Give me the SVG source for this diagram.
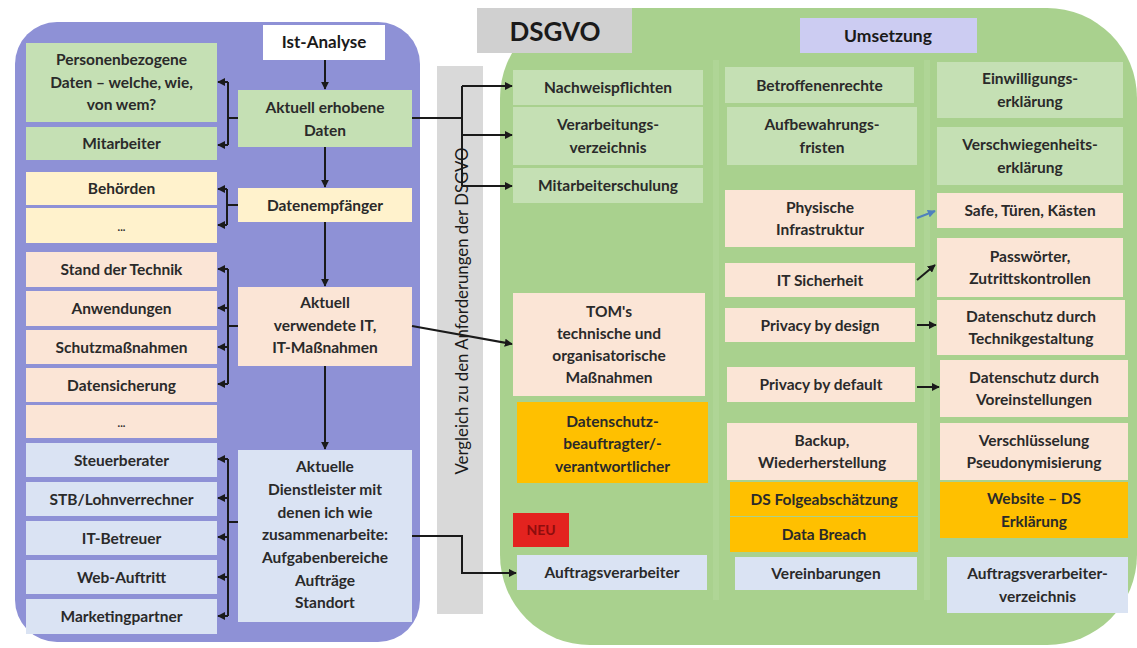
<svg xmlns="http://www.w3.org/2000/svg" width="1137" height="648" viewBox="0 0 1137 648">
<defs>
<marker id="ah" viewBox="0 0 10 10" refX="9" refY="5" markerWidth="8" markerHeight="8" markerUnits="userSpaceOnUse" orient="auto"><path d="M0,0 L10,5 L0,10 z" fill="#1a1a1a"/></marker>
<marker id="ahb" viewBox="0 0 10 10" refX="9" refY="5" markerWidth="8" markerHeight="8" markerUnits="userSpaceOnUse" orient="auto"><path d="M0,0 L10,5 L0,10 z" fill="#4f81bd"/></marker>
</defs>
<style>
text{font-family:Lato,"Liberation Sans",sans-serif;font-weight:700;font-size:15.5px;fill:#2a2a2a;text-anchor:middle}
.g{fill:#c5e0b4}.y{fill:#fff2cc}.p{fill:#fbe5d6}.b{fill:#dae3f3}.o{fill:#ffc000}
.ln{fill:none;stroke:#1a1a1a;stroke-width:2}
.ar{fill:none;stroke:#1a1a1a;stroke-width:2;marker-end:url(#ah)}
</style>
<rect width="1137" height="648" fill="#ffffff"/>
<!-- panels -->
<rect id="panel-ist" x="15" y="22" width="405" height="620" rx="42" fill="#8e91d6"/>
<rect id="panel-dsgvo" x="500" y="8" width="637" height="637" rx="90" fill="#a9d18e"/>
<rect x="713" y="60" width="6" height="540" fill="#b6d9a0" opacity="0.45"/>
<rect x="924" y="60" width="6" height="540" fill="#b6d9a0" opacity="0.45"/>
<g id="band"><rect x="437" y="66" width="46" height="548" fill="#d9d9d9"/>
<text transform="translate(468,311) rotate(-90)" style="font-weight:400;font-size:16.8px;fill:#1a1a1a">Vergleich zu den Anforderungen der DSGVO</text></g>
<g id="title-dsgvo"><rect x="477" y="8" width="155" height="45" fill="#d0d0d0"/><text x="555" y="41" style="font-size:26px;fill:#1a1a1a">DSGVO</text></g>
<g id="title-umsetzung"><rect x="800" y="18" width="177" height="35" fill="#ccccf2"/><text x="888" y="42" style="font-size:17.5px;fill:#1a1a1a">Umsetzung</text></g>
<g id="title-ist"><rect x="263" y="25" width="122" height="35" fill="#ffffff"/><text x="324" y="48" style="font-size:17px;fill:#1a1a1a">Ist-Analyse</text></g>

<!-- left column -->
<g id="personenbezogene"><rect class="g" x="26" y="43" width="191" height="79"/><text x="121.5" y="65">Personenbezogene</text><text x="121.5" y="87.5">Daten – welche, wie,</text><text x="121.5" y="110">von wem?</text></g>
<g id="mitarbeiter"><rect class="g" x="26" y="127" width="191" height="33"/><text x="121.5" y="149">Mitarbeiter</text></g>
<g id="behoerden"><rect class="y" x="26" y="172" width="191" height="33"/><text x="121.5" y="194">Behörden</text></g>
<g id="dots1"><rect class="y" x="26" y="208" width="191" height="35"/><text x="121.5" y="231" style="font-size:11px">...</text></g>
<g id="stand"><rect class="p" x="26" y="252" width="191" height="35"/><text x="121.5" y="275">Stand der Technik</text></g>
<g id="anwendungen"><rect class="p" x="26" y="291" width="191" height="35"/><text x="121.5" y="314">Anwendungen</text></g>
<g id="schutz"><rect class="p" x="26" y="330" width="191" height="34"/><text x="121.5" y="352.5">Schutzmaßnahmen</text></g>
<g id="datensicherung"><rect class="p" x="26" y="368" width="191" height="34"/><text x="121.5" y="390.5">Datensicherung</text></g>
<g id="dots2"><rect class="p" x="26" y="405" width="191" height="33"/><text x="121.5" y="427" style="font-size:11px">...</text></g>
<g id="steuerberater"><rect class="b" x="26" y="443" width="191" height="34"/><text x="121.5" y="465.5">Steuerberater</text></g>
<g id="stb"><rect class="b" x="26" y="482" width="191" height="34"/><text x="121.5" y="504.5">STB/Lohnverrechner</text></g>
<g id="itbetreuer"><rect class="b" x="26" y="521" width="191" height="34"/><text x="121.5" y="543.5">IT-Betreuer</text></g>
<g id="webauftritt"><rect class="b" x="26" y="560" width="191" height="34"/><text x="121.5" y="582.5">Web-Auftritt</text></g>
<g id="marketing"><rect class="b" x="26" y="599" width="191" height="35"/><text x="121.5" y="622">Marketingpartner</text></g>

<!-- left panel main column -->
<g id="erhobene"><rect class="g" x="238" y="90" width="174" height="57"/><text x="325" y="113">Aktuell erhobene</text><text x="325" y="135.5">Daten</text></g>
<g id="empfaenger"><rect class="y" x="238" y="188" width="174" height="34"/><text x="325" y="210.5">Datenempfänger</text></g>
<g id="verwendete-it"><rect class="p" x="238" y="287" width="174" height="79"/><text x="325" y="308">Aktuell</text><text x="325" y="330.5">verwendete IT,</text><text x="325" y="353">IT-Maßnahmen</text></g>
<g id="dienstleister"><rect class="b" x="238" y="450" width="174" height="172"/><text x="325" y="472">Aktuelle</text><text x="325" y="495">Dienstleister mit</text><text x="325" y="518">denen ich wie</text><text x="325" y="540">zusammenarbeite:</text><text x="325" y="563">Aufgabenbereiche</text><text x="325" y="586">Aufträge</text><text x="325" y="608">Standort</text></g>

<!-- right panel column 1 -->
<g id="nachweis"><rect class="g" x="513" y="70" width="190" height="35"/><text x="608" y="93">Nachweispflichten</text></g>
<g id="verarbeitungs"><rect class="g" x="513" y="107" width="190" height="58"/><text x="608" y="130">Verarbeitungs-</text><text x="608" y="152.5">verzeichnis</text></g>
<g id="schulung"><rect class="g" x="513" y="168" width="190" height="35"/><text x="608" y="191">Mitarbeiterschulung</text></g>
<g id="toms"><rect class="p" x="513" y="293" width="192" height="103"/><text x="609" y="317">TOM's</text><text x="609" y="339">technische und</text><text x="609" y="361">organisatorische</text><text x="609" y="383">Maßnahmen</text></g>
<g id="dsb"><rect class="o" x="517" y="402" width="191" height="81"/><text x="612.5" y="426.5">Datenschutz-</text><text x="612.5" y="449">beauftragter/-</text><text x="612.5" y="471.5">verantwortlicher</text></g>
<g id="neu"><rect x="513" y="513" width="56" height="34" fill="#e3231f"/><text x="541" y="535" style="font-size:14px;fill:#8e0d0d">NEU</text></g>
<g id="auftragsverarbeiter"><rect class="b" x="517" y="555" width="190" height="35"/><text x="612" y="578">Auftragsverarbeiter</text></g>

<!-- column 2 -->
<g id="betroffenen"><rect class="g" x="725" y="67" width="189" height="36"/><text x="819.5" y="90.5">Betroffenenrechte</text></g>
<g id="aufbewahrung"><rect class="g" x="727" y="107" width="190" height="58"/><text x="822" y="130">Aufbewahrungs-</text><text x="822" y="152.5">fristen</text></g>
<g id="physische"><rect class="p" x="725" y="190" width="190" height="57"/><text x="820" y="212.5">Physische</text><text x="820" y="235">Infrastruktur</text></g>
<g id="itsicherheit"><rect class="p" x="725" y="263" width="190" height="34"/><text x="820" y="285.5">IT Sicherheit</text></g>
<g id="pbdesign"><rect class="p" x="725" y="308" width="190" height="34"/><text x="820" y="330.5">Privacy by design</text></g>
<g id="pbdefault"><rect class="p" x="727" y="367" width="188" height="35"/><text x="821" y="390">Privacy by default</text></g>
<g id="backup"><rect class="p" x="727" y="423" width="190" height="57"/><text x="822" y="445.5">Backup,</text><text x="822" y="468">Wiederherstellung</text></g>
<g id="folge"><rect class="o" x="730" y="482" width="188" height="34"/><text x="824" y="504.5">DS Folgeabschätzung</text></g>
<g id="breach"><rect class="o" x="730" y="517" width="188" height="35"/><text x="824" y="540">Data Breach</text></g>
<g id="vereinbarungen"><rect class="b" x="735" y="557" width="182" height="33"/><text x="826" y="579">Vereinbarungen</text></g>

<!-- column 3 -->
<g id="einwilligung"><rect class="g" x="937" y="62" width="186" height="56"/><text x="1030" y="84">Einwilligungs-</text><text x="1030" y="106.5">erklärung</text></g>
<g id="verschwiegenheit"><rect class="g" x="937" y="127" width="186" height="58"/><text x="1030" y="150">Verschwiegenheits-</text><text x="1030" y="172.5">erklärung</text></g>
<g id="safe"><rect class="p" x="937" y="193" width="186" height="35"/><text x="1030" y="216">Safe, Türen, Kästen</text></g>
<g id="passwoerter"><rect class="p" x="937" y="238" width="186" height="59"/><text x="1030" y="261.5">Passwörter,</text><text x="1030" y="284">Zutrittskontrollen</text></g>
<g id="technikgestaltung"><rect class="p" x="937" y="300" width="188" height="55"/><text x="1031" y="321.5">Datenschutz durch</text><text x="1031" y="344">Technikgestaltung</text></g>
<g id="voreinstellungen"><rect class="p" x="940" y="360" width="188" height="57"/><text x="1034" y="382.5">Datenschutz durch</text><text x="1034" y="405">Voreinstellungen</text></g>
<g id="verschluesselung"><rect class="p" x="940" y="423" width="188" height="57"/><text x="1034" y="445.5">Verschlüsselung</text><text x="1034" y="468">Pseudonymisierung</text></g>
<g id="website"><rect class="o" x="940" y="482" width="188" height="56"/><text x="1034" y="504">Website – DS</text><text x="1034" y="526.5">Erklärung</text></g>
<g id="av-verzeichnis"><rect class="b" x="947" y="557" width="181" height="56"/><text x="1037.5" y="579">Auftragsverarbeiter-</text><text x="1037.5" y="601.5">verzeichnis</text></g>

<!-- connectors -->
<g id="connectors">
<path class="ar" d="M325,60 V89"/>
<path class="ar" d="M325,147 V187"/>
<path class="ar" d="M325,222 V286"/>
<path class="ar" d="M325,366 V449"/>
<path class="ln" d="M238,118 H228 M228,82 V145"/>
<path class="ar" d="M228,82 H218"/><path class="ar" d="M228,145 H218"/>
<path class="ln" d="M238,205 H227 M227,189 V225"/>
<path class="ar" d="M227,189 H218"/><path class="ar" d="M227,225 H218"/>
<path class="ln" d="M238,326 H228 M228,269 V384"/>
<path class="ar" d="M228,269 H218"/><path class="ar" d="M228,308 H218"/><path class="ar" d="M228,347 H218"/><path class="ar" d="M228,384 H218"/>
<path class="ln" d="M238,522 H228 M228,459 V616"/>
<path class="ar" d="M228,459 H218"/><path class="ar" d="M228,498 H218"/><path class="ar" d="M228,537 H218"/><path class="ar" d="M228,577 H218"/><path class="ar" d="M228,616 H218"/>
<path class="ln" d="M412,118 H462 M462,86 V186"/>
<path class="ar" d="M462,86 H512"/><path class="ar" d="M462,135 H512"/><path class="ar" d="M462,186 H512"/>
<path class="ar" d="M412,326 L512,344"/>
<path class="ar" d="M412,536 H462 V573 H516"/>
<path d="M917,218 L935,211" fill="none" stroke="#4f81bd" stroke-width="2" marker-end="url(#ahb)"/>
<path class="ar" d="M917,280 L935,265"/>
<path class="ar" d="M917,325 L936,325"/>
<path class="ar" d="M917,387 L939,387"/>
</g>
</svg>
